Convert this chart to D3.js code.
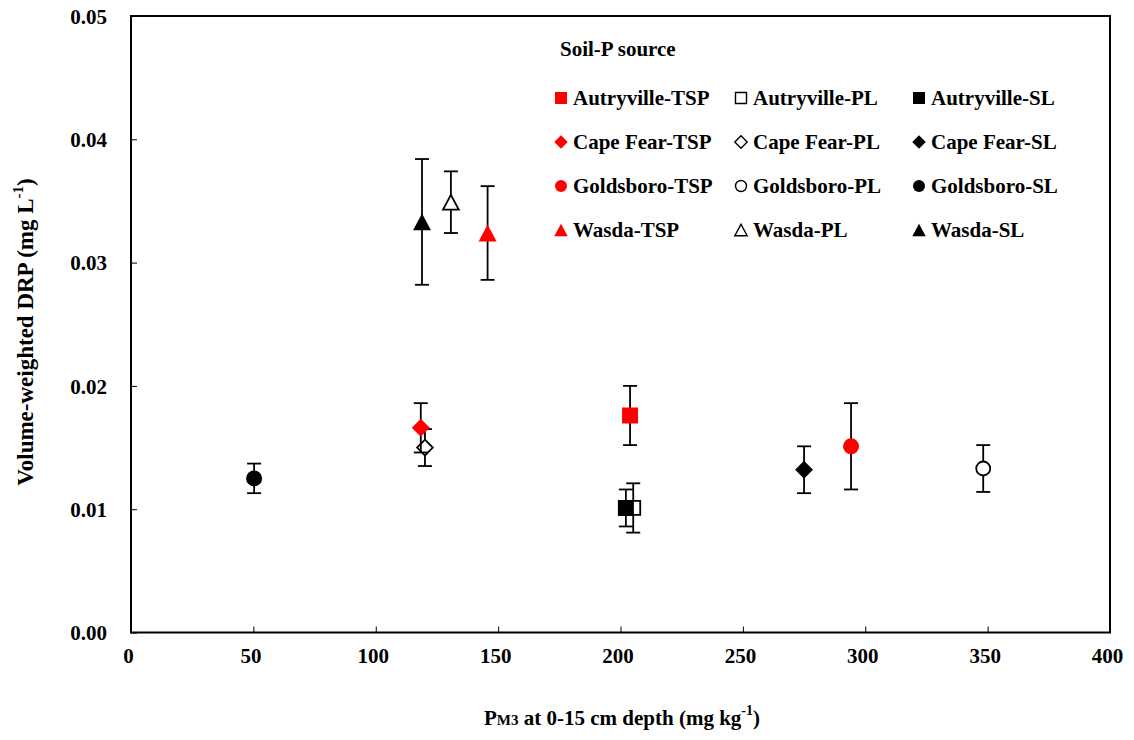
<!DOCTYPE html>
<html>
<head>
<meta charset="utf-8">
<script src="https://cdn.jsdelivr.net/npm/d3@7"></script>
<style>
  html, body { margin: 0; padding: 0; background: #fff; }
  svg { display: block; }
  text { font-family: "Liberation Serif", "Times New Roman", serif; font-weight: bold; }
</style>
</head>
<body>
<svg id="chart" width="1134" height="740"></svg>
<script>
// ---- data ----
const sites = ["Autryville", "Cape Fear", "Goldsboro", "Wasda"];
const sources = ["TSP", "PL", "SL"];
const seriesNames = [
  "Autryville-TSP", "Autryville-PL", "Autryville-SL",
  "Cape Fear-TSP", "Cape Fear-PL", "Cape Fear-SL",
  "Goldsboro-TSP", "Goldsboro-PL", "Goldsboro-SL",
  "Wasda-TSP", "Wasda-PL", "Wasda-SL"
];
const pm3 = [203.9, 205.2, 202.2, 118.4, 120.1, 275.0, 294.2, 348.2, 50.3, 145.7, 130.7, 118.9];
const drp = [0.0176, 0.0101, 0.0101, 0.0166, 0.0150, 0.0132, 0.0151, 0.0133, 0.0125, 0.0324, 0.0349, 0.0333];
const err = [0.0024, 0.0020, 0.0015, 0.0020, 0.0015, 0.0019, 0.0035, 0.0019, 0.0012, 0.0038, 0.0025, 0.0051];
const xTicks = [0, 50, 100, 150, 200, 250, 300, 350, 400];
const yTicks = [0, 0.01, 0.02, 0.03, 0.04, 0.05];

// styles per site / source
const siteShape = { "Autryville": "square", "Cape Fear": "diamond", "Goldsboro": "circle", "Wasda": "triangle" };
const sourceStyle = {
  "TSP": { fill: "#ff0000", stroke: "none" },
  "PL":  { fill: "#ffffff", stroke: "#000" },
  "SL":  { fill: "#000000", stroke: "none" }
};

const svg = d3.select("#chart");
const m = { left: 131, right: 1110, top: 16, bottom: 632.5 };
const x = d3.scaleLinear().domain([0, 400]).range([m.left, m.right]);
const y = d3.scaleLinear().domain([0, 0.05]).range([m.bottom, m.top]);

function shapePath(shape, s) {
  const h = s / 2;
  if (shape === "square") return `M${-h},${-h}H${h}V${h}H${-h}Z`;
  if (shape === "diamond") { const d = h * 1.12; return `M0,${-d}L${d},0L0,${d}L${-d},0Z`; }
  if (shape === "triangle") { const w = h * 1.12, t = h * 1.05; return `M0,${-t}L${w},${t}L${-w},${t}Z`; }
  if (shape === "circle") return `M${h},0A${h},${h} 0 1,1 ${-h},0A${h},${h} 0 1,1 ${h},0Z`;
}

// axes
const xAxis = d3.axisBottom(x).tickValues(xTicks).tickSize(-6).tickPadding(16).tickFormat(d3.format("d"));
const yAxis = d3.axisLeft(y).tickValues(yTicks).tickSize(-6).tickPadding(24).tickFormat(d3.format(".2f"));

const gx = svg.append("g").attr("transform", `translate(0,${m.bottom})`).call(xAxis);
const gy = svg.append("g").attr("transform", `translate(${m.left},0)`).call(yAxis);
[gx, gy].forEach(g => {
  g.select(".domain").remove();
  g.selectAll(".tick line").attr("stroke", "#000").attr("stroke-width", 1);
  g.selectAll(".tick text").attr("font-size", 21).attr("fill", "#000")
    .style("font-family", '"Liberation Serif", serif').style("font-weight", "bold");
});
gx.selectAll(".tick text").attr("dy", "0.71em").attr("dx", -3);
gy.selectAll(".tick text").attr("dy", "0.35em");

// frame
svg.append("rect")
  .attr("x", m.left).attr("y", m.top)
  .attr("width", m.right - m.left).attr("height", m.bottom - m.top)
  .attr("fill", "none").attr("stroke", "#000").attr("stroke-width", 2);

// points (draw order PL, TSP, SL per site)
const order = [];
sites.forEach((s, si) => ["PL", "TSP", "SL"].forEach(src => order.push(si * 3 + sources.indexOf(src))));

const gp = svg.append("g");
order.forEach(i => {
  const [site, src] = [sites[Math.floor(i / 3)], sources[i % 3]];
  const cx = x(pm3[i]), cy = y(drp[i]);
  const g = gp.append("g").attr("class", "pt");
  const yt = y(drp[i] + err[i]), yb = y(drp[i] - err[i]);
  g.append("line").attr("x1", cx).attr("x2", cx).attr("y1", yt).attr("y2", yb)
    .attr("stroke", "#000").attr("stroke-width", 1.8);
  [yt, yb].forEach(yy => g.append("line").attr("x1", cx - 7).attr("x2", cx + 7)
    .attr("y1", yy).attr("y2", yy).attr("stroke", "#000").attr("stroke-width", 1.8));
  const st = sourceStyle[src];
  g.append("path").attr("transform", `translate(${cx},${cy})`)
    .attr("d", shapePath(siteShape[site], src === "PL" ? 14 : 16))
    .attr("fill", st.fill).attr("stroke", st.stroke).attr("stroke-width", 1.8);
});

// legend
const lg = svg.append("g");
lg.append("text").attr("x", 560).attr("y", 56).attr("font-size", 21).text("Soil-P source");
const colX = [561, 741, 919];
const rowY = [98, 142, 186, 230];
seriesNames.forEach((name, i) => {
  const r = Math.floor(i / 3), c = i % 3;
  const site = sites[r], src = sources[c];
  const st = sourceStyle[src];
  lg.append("path").attr("transform", `translate(${colX[c]},${rowY[r]})`)
    .attr("d", shapePath(siteShape[site], src === "PL" ? 11 : 12))
    .attr("fill", st.fill).attr("stroke", st.stroke).attr("stroke-width", 1.4);
  lg.append("text").attr("x", colX[c] + 12).attr("y", rowY[r] + 7).attr("font-size", 21).text(name);
});

// axis titles
const xt = svg.append("text").attr("x", 622).attr("y", 725).attr("text-anchor", "middle").attr("font-size", 21);
xt.append("tspan").text("P");
xt.append("tspan").attr("font-size", 15).text("M3");
xt.append("tspan").text(" at 0-15 cm depth (mg kg");
xt.append("tspan").attr("font-size", 14).attr("dy", -10).text("-1");
xt.append("tspan").attr("dy", 10).text(")");

const ytl = svg.append("text").attr("transform", "translate(33,332) rotate(-90)")
  .attr("text-anchor", "middle").attr("font-size", 23);
ytl.append("tspan").text("Volume-weighted DRP (mg L");
ytl.append("tspan").attr("font-size", 15).attr("dy", -10).text("-1");
ytl.append("tspan").attr("dy", 10).text(")");
</script>
</body>
</html>
